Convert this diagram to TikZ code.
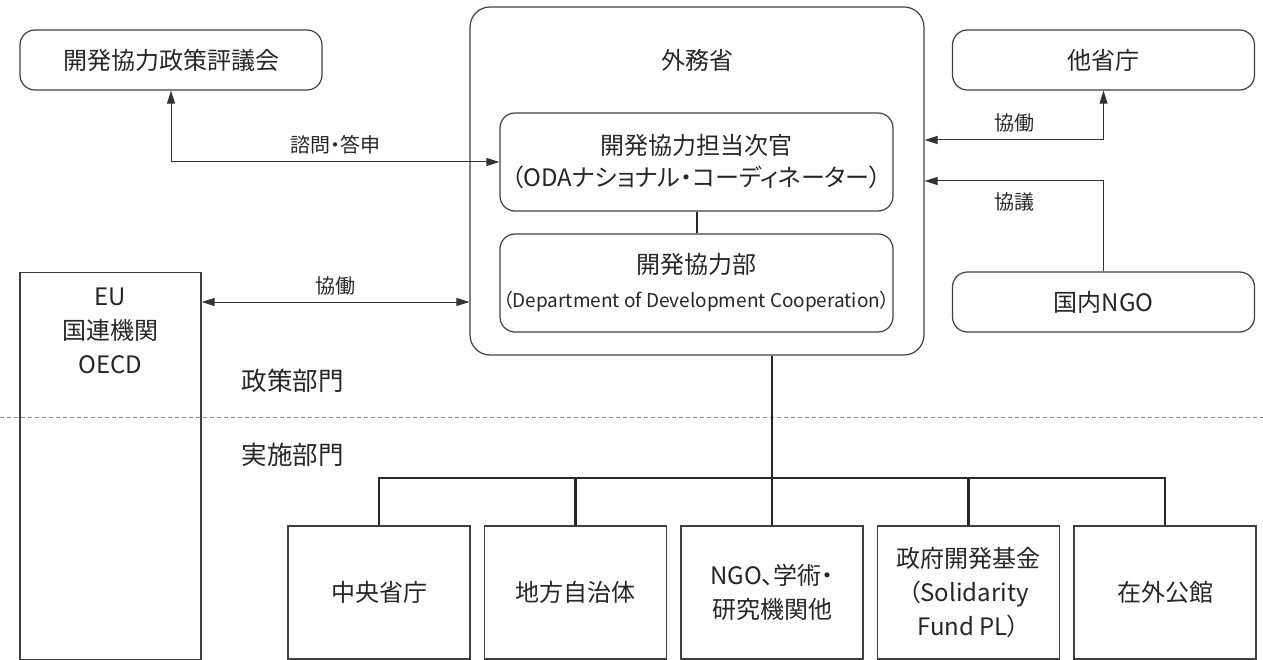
\documentclass[tikz,border=0pt]{standalone}
\usepackage{fontspec}
\setmainfont[RawFeature=+palt]{Noto Sans CJK JP}
\usetikzlibrary{arrows.meta,positioning}
\tikzset{
  rbox/.style={draw=black!75, line width=1.2pt, rounded corners=15pt, text=black!85, inner xsep=2pt,
    minimum width=302pt, minimum height=60pt, align=center, font=\fontsize{24}{32}\selectfont},
  sqbox/.style={draw=black!75, line width=1.2pt, text=black!85,
    minimum width=182pt, minimum height=133pt, align=center, font=\fontsize{24}{34}\selectfont},
  main/.style={text=black!85, align=center, font=\fontsize{24}{34}\selectfont},
  sec/.style={text=black!85, font=\fontsize{25.5}{30}\selectfont},
  lbl/.style={text=black!85, font=\fontsize{20}{22}\selectfont},
  link/.style={draw=black!80, line width=1pt, >={Triangle[length=13pt,width=8pt]}},
  tree/.style={draw=black!85, line width=2.4pt},
}
\begin{document}
\begin{tikzpicture}[x=1pt,y=-1pt]
    \useasboundingbox (0,0) rectangle (1263,660);
    \clip (0,0) rectangle (1263,660);
    % Boites du haut
    \node[rbox] (council) at (171,60) {開発協力政策評議会};
    \node[rbox] (other) at (1103.5,60) {他省庁};
    \node[rbox] (ngo) at (1103.5,302) {国内NGO};
    % Ministere
    \node[draw=black!75, line width=1.2pt, rounded corners=20pt,
      minimum width=454pt, minimum height=348pt] (mofa) at (697,181) {};
    \node[main] (mofat) at (697,60) {外務省};
    \node[rbox, minimum width=393pt, minimum height=98pt] (vice) at (696.5,162)
      {開発協力担当次官\\（ODAナショナル・コーディネーター）};
    \node[rbox, minimum width=393pt, minimum height=98pt] (dept) at (696.5,283)
      {開発協力部\\[2pt]{\fontsize{19}{22}\selectfont （Department of Development Cooperation）}};
    \draw[tree, line width=2pt] (vice) -- (dept);
    % Partenaires
    \node[sqbox, minimum width=181pt, minimum height=387pt, anchor=north] (eu) at (110.5,272) {};
    \node[main, anchor=north] (eut) at (110.5,284) {EU\\国連機関\\OECD};
    \coordinate (coop) at (0,302);
    % Fleches
    \draw[link,<->] (vice.west) -| (council.south) node[lbl, pos=0.25, above=4pt] {諮問・答申};
    \draw[link,<->] ([yshift=41pt]mofa.east) -| (other.south) node[lbl, pos=0.25, above=4pt] {協働};
    \draw[link,->] (ngo.north) |- (mofa.east) node[lbl, pos=0.75, below=8pt] {協議};
    \draw[link,<->] (eu.east |- coop) -- (mofa.west |- coop) node[lbl, midway, above=3pt] {協働};
    % Separation
    \draw[black!45, line width=1pt, dash pattern=on 4pt off 3pt] (0,417) -- (1263,417);
    \node[sec, anchor=west] (pol) at (238,381) {政策部門};
    \node[sec, anchor=west] (impl) at (238,455) {実施部門};
    % Organes d'execution
    \foreach \i/\t in {1/中央省庁, 2/地方自治体, 3/{NGO、学術・\\研究機関他},
      4/{政府開発基金\\（Solidarity\\Fund PL）}, 5/在外公館}
      \node[sqbox] (b\i) at ({379+196.5*(\i-1)},592.5) {\t};
    \coordinate (bus) at (0,478);
    \draw[tree] (mofa.south -| b3.north) -- (b3.north);
    \draw[tree] (b1.north) |- (bus -| b5.north) -- (b5.north);
    \foreach \i in {2,4} \draw[tree] (b\i.north) -- (b\i.north |- bus);
\end{tikzpicture}
\end{document}
